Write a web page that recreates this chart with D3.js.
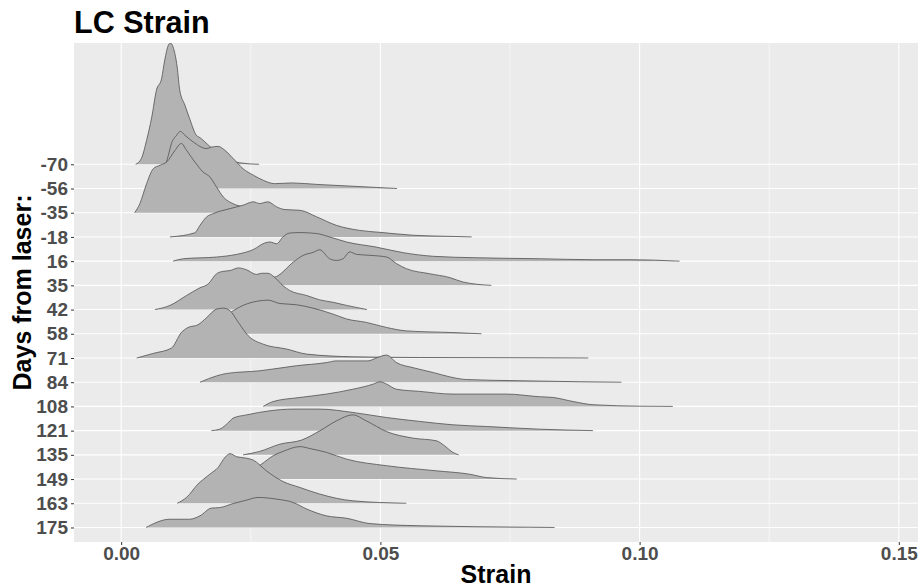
<!DOCTYPE html>
<html>
<head>
<meta charset="utf-8">
<script src="https://cdn.jsdelivr.net/npm/d3@7"></script>
<style>
  body { margin: 0; background: #ffffff; }
  svg { display: block; }
</style>
</head>
<body>
<svg id="chart" width="921" height="588"></svg>
<script>
// Days from laser, top row first
const categories = ["-70", "-56", "-35", "-18", "16", "35", "42", "58", "71", "84", "108", "121", "135", "149", "163", "175"];

const xTicks = [0, 0.05, 0.10, 0.15];
const xMinorTicks = [0.025, 0.075, 0.125];

// Density ridges per day: [strain, ridge height in row units]
const dM70 = [[.0028,0],[.0039,.24],[.0049,.99],[.0059,1.95],[.0068,3.06],[.0078,3.54],[.0084,4.30],[.0091,4.92],[.0095,5.01],[.0100,4.85],[.0108,4.02],[.0113,3.06],[.0123,2.44],[.0132,1.89],[.0145,1.20],[.0152,1.10],[.0171,.74],[.0190,.41],[.0210,.17],[.0229,.06],[.0266,0]];
const dM56 = [[.0051,0],[.0065,.21],[.0075,.50],[.0088,1.14],[.0091,1.37],[.0097,1.86],[.0107,2.20],[.0114,2.36],[.0123,2.20],[.0139,1.92],[.0165,1.65],[.0174,1.71],[.0187,1.74],[.0200,1.58],[.0216,1.24],[.0235,.82],[.0255,.55],[.0274,.34],[.0296,.20],[.0329,.23],[.0377,.17],[.0441,.10],[.0532,0]];
const dM35 = [[.0026,0],[.0036,.37],[.0049,1.20],[.0062,1.82],[.0075,1.96],[.0088,2.10],[.0104,2.58],[.0116,2.86],[.0126,2.58],[.0142,2.10],[.0158,1.68],[.0171,1.48],[.0184,1.06],[.0197,.65],[.0216,.37],[.0235,.24],[.0258,.12],[.0287,.04],[.0316,0]];
const dM18 = [[.0094,0],[.0142,.17],[.0152,.48],[.0165,.83],[.0177,.96],[.0210,1.17],[.0235,1.31],[.0255,1.45],[.0267,1.38],[.0283,1.45],[.0300,1.24],[.0316,1.13],[.0345,1.10],[.0377,.83],[.0415,.48],[.0460,.27],[.0499,.19],[.0563,.07],[.0640,.02],[.0676,0]];
const d16 = [[.0100,0],[.0120,.10],[.0184,.17],[.0223,.28],[.0255,.48],[.0277,.75],[.0287,.79],[.0300,.72],[.0312,1.00],[.0325,1.16],[.0345,1.18],[.0377,1.14],[.0402,1.00],[.0435,.79],[.0492,.58],[.0544,.35],[.0602,.20],[.0685,.14],[.0807,.10],[.0910,.06],[.0981,.06],[.1077,0]];
const d35 = [[.0181,0],[.0229,.08],[.0267,.21],[.0300,.37],[.0332,.96],[.0351,1.24],[.0370,1.36],[.0383,1.47],[.0402,1.10],[.0415,1.03],[.0428,1.10],[.0441,1.38],[.0454,1.28],[.0480,1.24],[.0512,1.17],[.0531,.90],[.0550,.69],[.0595,.48],[.0634,.32],[.0659,.14],[.0714,0]];
const d42 = [[.0065,0],[.0094,.17],[.0126,.58],[.0152,.90],[.0168,1.06],[.0184,1.48],[.0197,1.58],[.0210,1.61],[.0226,1.72],[.0242,1.64],[.0261,1.45],[.0271,1.50],[.0283,1.50],[.0296,1.33],[.0312,.99],[.0325,.79],[.0358,.58],[.0383,.40],[.0409,.30],[.0435,.17],[.0474,0]];
const d58 = [[.0123,0],[.0152,.17],[.0181,.41],[.0200,.70],[.0216,.95],[.0242,1.23],[.0267,1.36],[.0283,1.39],[.0306,1.25],[.0338,1.20],[.0370,1.06],[.0409,.81],[.0435,.61],[.0473,.47],[.0512,.26],[.0550,.12],[.0640,.05],[.0695,0]];
const d71 = [[.0030,0],[.0062,.19],[.0097,.41],[.0116,1.05],[.0129,1.26],[.0148,1.37],[.0165,1.67],[.0184,2.02],[.0197,2.06],[.0210,1.95],[.0226,1.47],[.0245,.92],[.0274,.57],[.0319,.37],[.0358,.16],[.0447,.05],[.0576,.02],[.0769,.01],[.0901,0]];
const d84 = [[.0152,0],[.0184,.26],[.0203,.36],[.0267,.47],[.0338,.68],[.0396,.81],[.0415,.88],[.0476,.88],[.0492,1.00],[.0512,1.12],[.0531,.81],[.0563,.60],[.0602,.40],[.0634,.22],[.0666,.11],[.0769,.06],[.0884,.02],[.0965,0]];
const d108 = [[.0274,0],[.0293,.20],[.0345,.37],[.0396,.51],[.0447,.71],[.0486,.92],[.0499,1.02],[.0512,.92],[.0531,.71],[.0576,.62],[.0640,.51],[.0705,.51],[.0743,.51],[.0807,.40],[.0833,.37],[.0872,.20],[.0910,.07],[.1000,.01],[.1064,0]];
const d121 = [[.0174,0],[.0190,.06],[.0210,.40],[.0216,.52],[.0242,.65],[.0287,.82],[.0332,.89],[.0383,.89],[.0447,.75],[.0512,.54],[.0576,.38],[.0640,.24],[.0705,.17],[.0807,.06],[.0910,0]];
const d135 = [[.0235,0],[.0267,.14],[.0306,.44],[.0348,.61],[.0383,.99],[.0415,1.40],[.0447,1.65],[.0473,1.40],[.0512,.96],[.0563,.69],[.0608,.58],[.0624,.37],[.0640,.10],[.0651,0]];
const d149 = [[.0200,0],[.0229,.17],[.0248,.33],[.0271,.62],[.0293,.96],[.0312,1.14],[.0345,1.34],[.0364,1.26],[.0396,1.10],[.0435,.82],[.0512,.55],[.0608,.34],[.0672,.20],[.0705,.06],[.0763,0]];
const d163 = [[.0108,0],[.0126,.24],[.0148,.79],[.0171,1.20],[.0187,1.48],[.0200,1.89],[.0210,2.05],[.0223,1.92],[.0242,1.86],[.0255,1.78],[.0280,1.34],[.0312,.90],[.0345,.65],[.0383,.38],[.0447,.10],[.0550,0]];
const d175 = [[.0048,0],[.0094,.34],[.0132,.34],[.0152,.48],[.0174,.80],[.0190,.82],[.0216,.99],[.0242,1.13],[.0264,1.24],[.0300,1.17],[.0332,1.03],[.0358,.76],[.0396,.48],[.0435,.38],[.0480,.16],[.0576,.07],[.0788,.01],[.0836,0]];

const ridgeData = [dM70, dM56, dM35, dM18, d16, d35, d42, d58, d71, d84, d108, d121, d135, d149, d163, d175];

const panel = { left: 74, top: 43, right: 918, bottom: 542 };
const svg = d3.select("#chart");

const x = d3.scaleLinear().domain([-0.0091, 0.1537]).range([panel.left, panel.right]);

// Rows: bottom day sits at 0, top day at n-1; padding of 0.6 rows below,
// and room for the tallest ridge above.
const n = categories.length;
const maxH = d3.max(ridgeData, d => d3.max(d, p => p[1]));
const rows = d3.scaleLinear().domain([-0.6, n - 1 + maxH]).range([panel.bottom, panel.top]);
const y = d3.scalePoint().domain(categories).range([rows(n - 1), rows(0)]);
const step = y.step();

// Panel background
svg.append("rect")
  .attr("x", panel.left).attr("y", panel.top)
  .attr("width", panel.right - panel.left).attr("height", panel.bottom - panel.top)
  .attr("fill", "#EBEBEB");

// Grid
const grid = svg.append("g");
grid.selectAll(".minor").data(xMinorTicks).join("line")
  .attr("x1", d => x(d)).attr("x2", d => x(d))
  .attr("y1", panel.top).attr("y2", panel.bottom)
  .attr("stroke", "#ffffff").attr("stroke-width", 0.55);
grid.selectAll(".majorx").data(xTicks).join("line")
  .attr("x1", d => x(d)).attr("x2", d => x(d))
  .attr("y1", panel.top).attr("y2", panel.bottom)
  .attr("stroke", "#ffffff").attr("stroke-width", 1.1);
grid.selectAll(".majory").data(categories).join("line")
  .attr("x1", panel.left).attr("x2", panel.right)
  .attr("y1", d => y(d)).attr("y2", d => y(d))
  .attr("stroke", "#ffffff").attr("stroke-width", 1.1);

// Clip ridges to the panel
svg.append("clipPath").attr("id", "panel-clip")
  .append("rect")
  .attr("x", panel.left).attr("y", panel.top)
  .attr("width", panel.right - panel.left).attr("height", panel.bottom - panel.top);

const ridgesG = svg.append("g").attr("clip-path", "url(#panel-clip)");

// Draw top row first so that lower ridges overlap the ones above them
categories.forEach((cat, i) => {
  const base = y(cat);
  const pts = ridgeData[i];
  const area = d3.area()
    .x(p => x(p[0]))
    .y0(base)
    .y1(p => base - p[1] * step)
    .curve(d3.curveMonotoneX);
  const line = d3.line()
    .x(p => x(p[0]))
    .y(p => base - p[1] * step)
    .curve(d3.curveMonotoneX);
  const g = ridgesG.append("g");
  g.append("path").attr("d", area(pts)).attr("fill", "#B3B3B3");
  g.append("path").attr("d", line(pts))
    .attr("fill", "none").attr("stroke", "#505050").attr("stroke-width", 0.8);
});

// Axes
const tickFont = "'Liberation Sans', Arial, sans-serif";
const xAxis = svg.append("g")
  .attr("transform", `translate(0,${panel.bottom})`)
  .call(d3.axisBottom(x).tickValues(xTicks).tickFormat(d3.format(".2f")).tickSize(3).tickPadding(2));
const yAxis = svg.append("g")
  .attr("transform", `translate(${panel.left},0)`)
  .call(d3.axisLeft(y).tickSize(3).tickPadding(3));

[xAxis, yAxis].forEach(a => {
  a.select(".domain").remove();
  a.selectAll(".tick line").attr("stroke", "#333333").attr("stroke-width", 1);
  a.selectAll(".tick text")
    .attr("fill", "#4D4D4D")
    .style("font-family", tickFont)
    .style("font-weight", "bold")
    .style("font-size", "19px");
});

// Titles
svg.append("text")
  .attr("x", panel.left).attr("y", 33)
  .style("font-family", tickFont).style("font-weight", "bold").style("font-size", "30.5px")
  .attr("fill", "#000000")
  .text("LC Strain");

svg.append("text")
  .attr("x", (panel.left + panel.right) / 2).attr("y", 583)
  .attr("text-anchor", "middle")
  .style("font-family", tickFont).style("font-weight", "bold").style("font-size", "25px")
  .attr("fill", "#000000")
  .text("Strain");

svg.append("text")
  .attr("transform", `translate(31,${(panel.top + panel.bottom) / 2}) rotate(-90)`)
  .attr("text-anchor", "middle")
  .style("font-family", tickFont).style("font-weight", "bold").style("font-size", "25px")
  .attr("fill", "#000000")
  .text("Days from laser:");
</script>
</body>
</html>
